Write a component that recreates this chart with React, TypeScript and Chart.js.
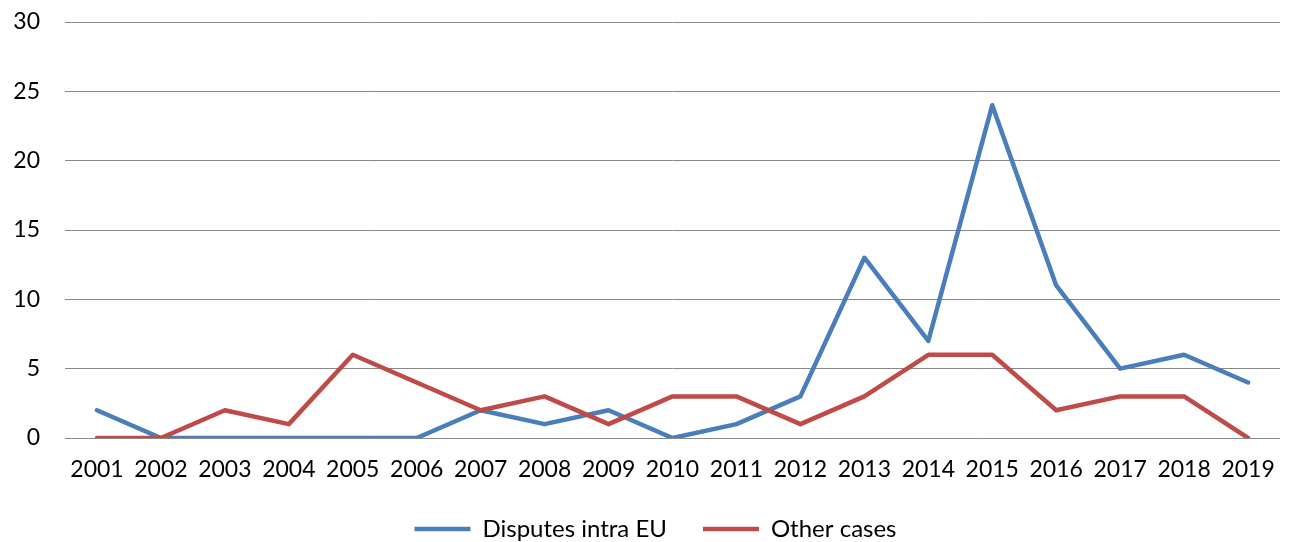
import React, { useEffect, useRef } from "react";
import { Chart, registerables } from "chart.js";

Chart.register(...registerables);

const categories = ["2001","2002","2003","2004","2005","2006","2007","2008","2009","2010","2011","2012","2013","2014","2015","2016","2017","2018","2019"];
const intraEU = [2,0,0,0,0,0,2,1,2,0,1,3,13,7,24,11,5,6,4];
const otherCases = [0,0,2,1,6,4,2,3,1,3,3,1,3,6,6,2,3,3,0];
const yTicks = [0,5,10,15,20,25,30];

const FONT = "Lato, 'Open Sans', sans-serif";

export default function App() {
  const ref = useRef<HTMLCanvasElement>(null);
  useEffect(() => {
    if (!ref.current) return;
    const chart = new Chart(ref.current, {
      type: "line",
      data: {
        labels: categories,
        datasets: [
          {
            label: "Disputes intra EU",
            data: intraEU,
            borderColor: "#4A7EBB",
            backgroundColor: "#4A7EBB",
            borderWidth: 4.5,
            pointRadius: 0,
            tension: 0,
            borderCapStyle: "round",
            borderJoinStyle: "round",
            order: 1,
          },
          {
            label: "Other cases",
            data: otherCases,
            borderColor: "#BE4B48",
            backgroundColor: "#BE4B48",
            borderWidth: 4.5,
            pointRadius: 0,
            tension: 0,
            borderCapStyle: "round",
            borderJoinStyle: "round",
            order: 0,
          },
        ],
      },
      options: {
        animation: false,
        responsive: false,
        layout: { padding: { top: 22, left: 0, right: -18, bottom: -9 } },
        scales: {
          x: {
            offset: true,
            grid: { display: false, drawTicks: false },
            border: { display: false },
            ticks: { color: "#000", font: { family: FONT, size: 23 }, padding: 18, maxRotation: 0, autoSkip: false },
            afterFit: (s: any) => { s.height = 43; },
          },
          y: {
            min: 0,
            max: 30,
            afterBuildTicks: (s: any) => { s.ticks = yTicks.map((v) => ({ value: v })); },
            afterFit: (s: any) => { s.width = 65; s.paddingTop = 0; s.paddingBottom = 0; },
            grid: { color: "#888888", lineWidth: 1, drawTicks: false },
            border: { display: false },
            ticks: { color: "#000", font: { family: FONT, size: 23 }, padding: 25 },
          },
          spacer: {
            type: "linear",
            position: "right",
            display: true,
            grid: { display: false, drawTicks: false },
            border: { display: false },
            ticks: { display: false },
            afterFit: (s: any) => { s.width = 28; s.paddingTop = 0; s.paddingBottom = 0; },
          },
        },
        plugins: {
          legend: {
            position: "bottom",
            labels: {
              usePointStyle: true,
              pointStyle: "line",
              pointStyleWidth: 56,
              color: "#000",
              font: { family: FONT, size: 24 },
              padding: 36,
              sort: (a: any, b: any) => a.datasetIndex - b.datasetIndex,
            },
          },
          tooltip: { enabled: false },
        },
      },
    });
    return () => chart.destroy();
  }, []);
  return (
    <div style={{ position: "fixed", left: 0, top: 0, width: 1293, height: 542, background: "#fff" }}>
      <canvas ref={ref} width={1293} height={542} style={{ width: 1293, height: 542 }} />
    </div>
  );
}
